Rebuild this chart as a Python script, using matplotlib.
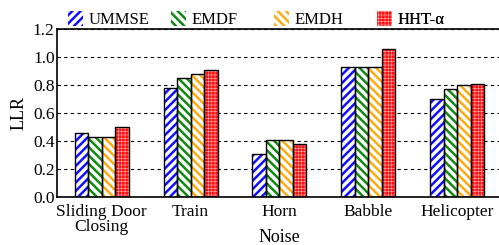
import numpy as np
import matplotlib
matplotlib.use("Agg")
import matplotlib.pyplot as plt
from matplotlib.patches import Patch

plt.rcParams['font.family'] = ['Liberation Serif', 'DejaVu Serif']

noises = ['Sliding Door\nClosing', 'Train', 'Horn', 'Babble', 'Helicopter']
methods = ['UMMSE', 'EMDF', 'EMDH', 'HHT-α']
ummse = [0.46, 0.78, 0.31, 0.93, 0.70]
emdf = [0.43, 0.85, 0.41, 0.93, 0.77]
emdh = [0.43, 0.88, 0.41, 0.93, 0.80]
hht = [0.50, 0.91, 0.38, 1.06, 0.81]
yticks = [0.0, 0.2, 0.4, 0.6, 0.8, 1.0, 1.2]

series = [ummse, emdf, emdh, hht]
# (face, hatch colour, hatch, hatch width)
styles = [('white', '#1010ff', '////', 1.8),
          ('white', '#108a10', '\\\\\\\\', 1.8),
          ('white', '#ffaa10', '\\\\\\\\', 1.8),
          ('#ff1010', '#ffb0b0', '+++++', 0.4)]
legend_x = [0.017, 0.249, 0.481, 0.713]

fig = plt.figure(figsize=(4.99, 2.45), dpi=100)
ax = fig.add_axes([0.115, 0.196, 0.89, 0.686])

x = np.arange(len(noises))
w = 0.152
for i, (vals, (fc, hc, h, hl)) in enumerate(zip(series, styles)):
    plt.rcParams['hatch.linewidth'] = hl
    pos = x + (i - 1.5) * w
    ax.bar(pos, vals, w, color=fc, edgecolor=hc, hatch=h, linewidth=0, zorder=2)
    ax.bar(pos, vals, w, fill=False, edgecolor='black', linewidth=1.0, zorder=3)
    # one legend per entry so each keeps its own hatch width
    leg = ax.legend([Patch(facecolor=fc, edgecolor=hc, hatch=h, linewidth=0)],
                    [methods[i]], frameon=False, fontsize=12,
                    loc='lower left', bbox_to_anchor=(legend_x[i], 0.985),
                    handlelength=0.9, handleheight=1.0, handletextpad=0.3,
                    borderaxespad=0, borderpad=0.2)
    ax.add_artist(leg)

ax.set_xlim(-0.5, 4.5)
ax.set_ylim(0, 1.2)
ax.set_yticks(yticks)
ax.set_yticklabels([f'{v:.1f}' for v in yticks])
ax.set_xticks(x)
ax.set_xticklabels(noises, linespacing=0.95)
ax.tick_params(axis='y', length=0, labelsize=12.5, pad=2)
ax.tick_params(axis='x', length=0, labelsize=12.5, pad=5)
ax.yaxis.grid(True, linestyle=(0, (3, 3)), color='black', linewidth=0.8, zorder=0)
ax.set_axisbelow(True)
for s in ['top', 'left', 'bottom']:
    ax.spines[s].set_linewidth(1.2)
ax.spines['right'].set_visible(False)
ax.set_ylabel('LLR', fontsize=13, labelpad=4)
ax.set_xlabel('Noise', fontsize=13)
ax.xaxis.set_label_coords(0.5, -0.24, transform=ax.transAxes)
ax.xaxis.label.set_va('center')

fig.savefig('out.png', dpi=100)
